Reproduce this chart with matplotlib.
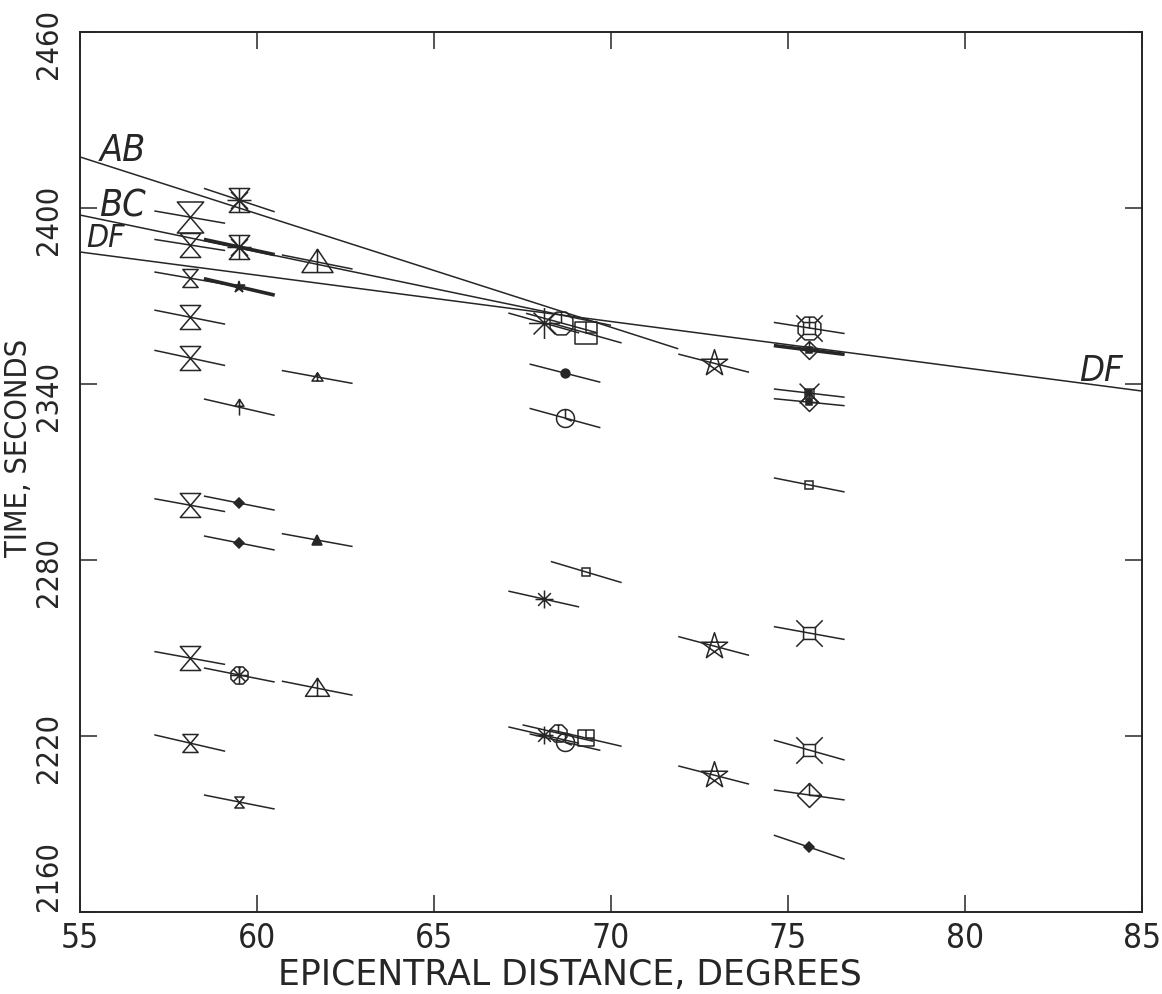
import numpy as np
import matplotlib
matplotlib.use("Agg")
import matplotlib.pyplot as plt
from matplotlib.path import Path
from matplotlib.transforms import ScaledTranslation
from matplotlib import font_manager as fm

# ------------------------------------------------------------------ data
# observed arrivals: epicentral distance (deg), time (s), local slope dT/dD (s/deg)
dist = [58.1, 58.1, 58.1, 58.1, 58.1, 58.1, 58.1, 58.1,
        59.5, 59.5, 59.5, 59.5, 59.5, 59.5, 59.5, 59.5,
        61.7, 61.7, 61.7, 61.7,
        68.1, 68.6, 69.3, 68.7, 68.7, 69.3, 68.1, 68.1, 68.5, 68.7, 69.3,
        72.9, 72.9, 72.9,
        75.6, 75.6, 75.6, 75.6, 75.6, 75.6, 75.6, 75.6, 75.6]
time = [2396.9, 2387.4, 2376.1, 2362.8, 2348.9, 2298.7, 2246.6, 2217.6,
        2402.7, 2386.7, 2373.1, 2332.1, 2299.4, 2285.8, 2240.8, 2197.5,
        2381.6, 2342.4, 2286.8, 2236.3,
        2360.8, 2360.8, 2357.4, 2343.7, 2328.4, 2275.9, 2266.7, 2220.3, 2221.0, 2217.9, 2219.3,
        2347.1, 2250.7, 2206.7,
        2359.1, 2351.6, 2336.9, 2333.8, 2305.6, 2255.1, 2215.2, 2199.9, 2182.1]
slope = [-2.1, -1.9, -2.1, -2.4, -2.6, -2.2, -2.2, -2.8,
         -4.0, -2.6, -2.8, -2.8, -2.4, -2.4, -2.4, -2.4,
         -2.4, -2.2, -2.2, -2.4,
         -3.4, -3.3, -3.4, -3.1, -3.3, -3.6, -2.7, -2.8, -2.8, -2.8, -2.8,
         -3.1, -3.2, -3.1,
         -1.9, -1.5, -1.4, -1.2, -2.4, -2.2, -3.4, -1.7, -4.1]
symbol = ["hourglass"] * 8 + \
         ["hourglass+asterisk", "hourglass+asterisk", "star_f", "arrow",
          "diamond_f", "diamond_f", "asterisk+octagon", "hourglass"] + \
         ["triangle", "triangle", "triangle_f", "triangle"] + \
         ["asterisk", "octagon", "square", "circle_f", "circle", "square_s",
          "asterisk", "asterisk", "octagon", "circle", "square"] + \
         ["pentagram"] * 3 + \
         ["xsquare+octagon", "diamond+dot", "xsquare+dot", "diamond+dot",
          "square_s", "xsquare", "xsquare", "diamond", "diamond_f"]
amp = [4, 3, 2, 3, 3, 3, 3, 2,
       3, 3, 1, 2, 1, 1, 2, 1,
       4, 1, 1, 3,
       4, 3, 3, 1, 2, 1, 2, 2, 2, 2, 2,
       3, 3, 3,
       3, 2, 2, 2, 1, 3, 3, 3, 1]
nobs = [1, 1, 1, 1, 1, 1, 1, 1,
        1, 2, 2, 1, 1, 1, 1, 1,
        1, 1, 1, 1,
        1, 1, 1, 1, 1, 1, 1, 1, 1, 1, 1,
        1, 1, 1,
        1, 2, 1, 1, 1, 1, 1, 1, 1]

# theoretical travel-time branches (end points)
branch = ["AB", "BC", "DF"]
branch_d0 = [55.0, 55.0, 55.0]
branch_d1 = [71.9, 70.0, 85.0]
branch_t0 = [2417.4, 2397.6, 2385.0]
branch_t1 = [2352.0, 2360.0, 2337.6]

xticks = [55, 60, 65, 70, 75, 80, 85]
yticks = [2160, 2220, 2280, 2340, 2400, 2460]

# ------------------------------------------------------------------ fonts
avail = {f.name for f in fm.fontManager.ttflist}
FONT = "Liberation Sans Narrow" if "Liberation Sans Narrow" in avail else "DejaVu Sans"
plt.rcParams["font.family"] = [FONT, "DejaVu Sans"]
plt.rcParams["font.stretch"] = "condensed"

INK = "#262626"

# ------------------------------------------------------------------ marker paths
def compound(parts):
    verts, codes = [], []
    for pts, closed in parts:
        pts = list(pts)
        verts += pts
        codes += [Path.MOVETO] + [Path.LINETO] * (len(pts) - 1)
        if closed:
            verts.append(pts[0])
            codes.append(Path.CLOSEPOLY)
    return Path(verts, codes)

def ngon(n, r=1.0, rot=0.0):
    a = np.deg2rad(rot + 90 + 360.0 * np.arange(n) / n)
    return list(zip(r * np.cos(a), r * np.sin(a)))

HOURGLASS = compound([([(-0.85, 1), (0.85, 1), (-0.85, -1), (0.85, -1)], True)])
ASTER = compound([([(np.cos(a), np.sin(a)), (-np.cos(a), -np.sin(a))], False)
                  for a in np.deg2rad([0, 45, 90, 135])])
TRIANGLE = compound([([(-1, -0.65), (1, -0.65), (0, 0.85)], True),
                     ([(0, 0.85), (0, -0.65)], False)])
OCTAGON = compound([(ngon(8, 1.0, 22.5), True), ([(0, 0.92), (0, 0)], False)])
SQUARE = compound([([(-1, -1), (1, -1), (1, 1), (-1, 1)], True),
                   ([(0, 1), (0, 0), (1, 0)], False)])
CIRCLE = compound([(ngon(32, 1.0), True), ([(0, 1), (0, 0), (0.7, -0.3)], False)])
DIAMOND = compound([([(0, 1), (1, 0), (0, -1), (-1, 0)], True), ([(0, 1), (0, 0), (1, 0)], False)])
PENTAGRAM = compound([([ngon(5)[k % 5] for k in (0, 2, 4, 1, 3)], True)])
XSQUARE = compound([([(-0.45, -0.45), (0.45, -0.45), (0.45, 0.45), (-0.45, 0.45)], True)] +
                   [([(sx * 0.45, sy * 0.45), (sx, sy)], False) for sx in (-1, 1) for sy in (-1, 1)])
ARROW = compound([([(-0.55, 0.15), (0.55, 0.15), (0, 1)], True), ([(0, 1), (0, -1)], False)])

# component -> (marker, filled, relative size)
STYLE = {
    "hourglass": (HOURGLASS, False, 1.0),
    "asterisk": (ASTER, False, 1.0),
    "triangle": (TRIANGLE, False, 1.0),
    "triangle_f": ("^", True, 0.9),
    "octagon": (OCTAGON, False, 0.95),
    "square": (SQUARE, False, 0.9),
    "square_s": ("s", False, 0.7),
    "circle": (CIRCLE, False, 1.0),
    "circle_f": ("o", True, 0.8),
    "diamond": (DIAMOND, False, 1.0),
    "diamond_f": ("D", True, 0.6),
    "star_f": ("*", True, 1.1),
    "arrow": (ARROW, False, 0.9),
    "pentagram": (PENTAGRAM, False, 1.15),
    "xsquare": (XSQUARE, False, 1.1),
    "dot": ("s", True, 0.35),
}
AMP_PX = {1: 11, 2: 18, 3: 24, 4: 31}

# ------------------------------------------------------------------ figure
fig = plt.figure(figsize=(11.62, 9.94), dpi=100)
ax = fig.add_axes([80 / 1162, 1 - 912 / 994, (1142 - 80) / 1162, (912 - 32) / 994])
ax.set_xlim(55, 85)
ax.set_ylim(2160, 2460)

# branches
for name, d0, d1, t0, t1 in zip(branch, branch_d0, branch_d1, branch_t0, branch_t1):
    ax.plot([d0, d1], [t0, t1], color=INK, lw=1.1, zorder=2, solid_capstyle="butt")

# observation segments and symbols
for d, t, s, sym, a, n in zip(dist, time, slope, symbol, amp, nobs):
    ax.plot([d - 1.0, d + 1.0], [t - s, t + s], color=INK, lw=1.1 if n == 1 else 2.6,
            zorder=3, solid_capstyle="butt")
    for comp in sym.split("+"):
        mk, filled, rel = STYLE[comp]
        ms = AMP_PX[a] * rel / 1.389
        ax.plot([d], [t], ls="none", marker=mk, ms=ms,
                mfc=INK if filled else "none", mec=INK, mew=1.1, zorder=4)

# branch labels
lab_kw = dict(style="italic", color=INK, zorder=5)
ax.text(56.2, 2419.3, "AB", ha="center", va="center", fontsize=27, **lab_kw)
ax.text(56.2, 2400.5, "BC", ha="center", va="center", fontsize=27, **lab_kw)
ax.text(55.72, 2389.5, "DF", ha="center", va="center", fontsize=23, **lab_kw)
ax.text(83.85, 2344.5, "DF", ha="center", va="center", fontsize=26, **lab_kw)

# axes styling
for sp in ax.spines.values():
    sp.set_linewidth(1.4)
    sp.set_color(INK)
ax.set_xticks(xticks)
ax.set_yticks(yticks)
ax.set_yticklabels([str(v) for v in yticks])
ax.tick_params(direction="in", length=12, width=1.1, color=INK,
               top=True, right=True, labelcolor=INK)
ax.tick_params(axis="x", pad=7, labelsize=24)
ax.tick_params(axis="y", pad=12, labelsize=22)
for lab in ax.get_yticklabels():
    lab.set_rotation(90)
    lab.set_va("center")
    txt = lab.get_text()
    dy = -12 if txt != "2160" else 36
    lab.set_transform(lab.get_transform() + ScaledTranslation(0, dy / 100, fig.dpi_scale_trans))

fig.text(570 / 1162, 1 - 975 / 994, "EPICENTRAL DISTANCE, DEGREES", ha="center", va="center",
         fontsize=25, fontstretch="normal", color=INK)
fig.text(19 / 1162, 1 - 448 / 994, "TIME, SECONDS", ha="center", va="center", rotation=90,
         fontsize=22, color=INK)

fig.savefig("out.png", dpi=100, facecolor="white")
